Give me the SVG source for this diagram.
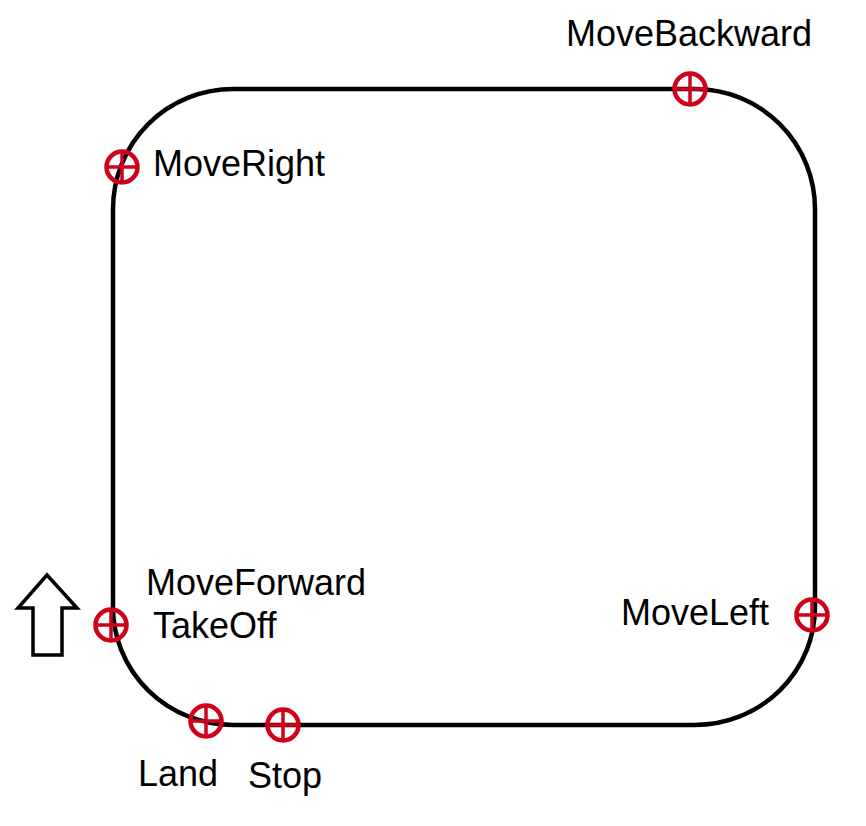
<svg xmlns="http://www.w3.org/2000/svg" width="866" height="826" viewBox="0 0 866 826">
<style>
.lbl{font-family:"Liberation Sans",Arial,sans-serif;font-size:36px;fill:#000}
.mk circle{fill:none;stroke:#d0021b;stroke-width:4.5}
.mk path{stroke:#d0021b;stroke-width:3.5;fill:none}
.track{fill:none;stroke:#000;stroke-width:4.5}
</style>
<defs>
<g id="cross" class="mk"><circle cx="0" cy="0" r="15.5"/><path d="M-15.5 0H15.5M0 -15.5V15.5"/></g>
</defs>
<rect width="866" height="826" fill="#fff"/>
<g id="connectors">
<path id="track" class="track" d="M233 89H695A120 120 0 0 1 815 209V607A120 118 0 0 1 695 725H233A120 118 0 0 1 113 607V209A120 120 0 0 1 233 89Z"/>
</g>
<g id="arrow"><polygon points="47,575 77,608 62,608 62,655 33,655 33,608 18,608" fill="#fff" stroke="#000" stroke-width="3.5" stroke-linejoin="miter"/></g>
<g id="node-movebackward"><use href="#cross" x="690" y="89"/><text class="lbl" x="566" y="46">MoveBackward</text></g>
<g id="node-moveright"><use href="#cross" x="122" y="167"/><text class="lbl" x="153" y="176">MoveRight</text></g>
<g id="node-moveforward-takeoff"><use href="#cross" x="111" y="625"/><text class="lbl" x="146" y="595">MoveForward</text><text class="lbl" x="153" y="638">TakeOff</text></g>
<g id="node-land"><use href="#cross" x="206" y="721"/><text class="lbl" x="138" y="786">Land</text></g>
<g id="node-stop"><use href="#cross" x="283" y="725"/><text class="lbl" x="248" y="788">Stop</text></g>
<g id="node-moveleft"><use href="#cross" x="812" y="615"/><text class="lbl" x="621" y="625">MoveLeft</text></g>
</svg>
